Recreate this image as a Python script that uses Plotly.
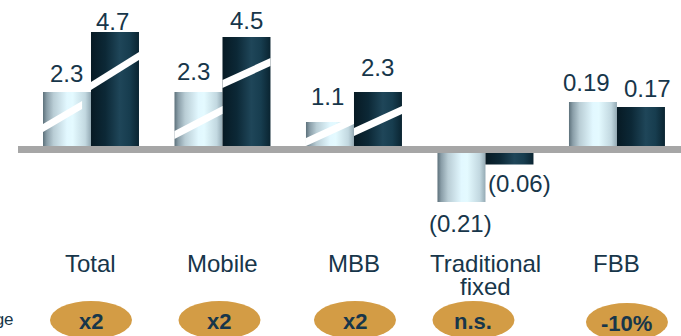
import plotly.graph_objects as go

# ---- data -------------------------------------------------------------
categories = ["Total", "Mobile", "MBB", "Traditional<br>fixed", "FBB"]
values_before = [2.3, 2.3, 1.1, -0.21, 0.19]
values_after = [4.7, 4.5, 2.3, -0.06, 0.17]
change_labels = ["x2", "x2", "x2", "n.s.", "-10%"]
# the small fixed-line figures are plotted on a 10x finer scale
value_axis = ["y", "y", "y", "y2", "y2"]

# ---- styling ----------------------------------------------------------
W, H = 681, 336
FONT = "Liberation Sans, Arial, sans-serif"
TEXT = "#17364a"
BAR_W = 0.365
LIGHT_SCALE = [[0.0, "#5d717b"], [0.08, "#8a9ea8"], [0.22, "#b9cdd5"],
               [0.5, "#e2f8ff"], [0.62, "#e4faff"], [0.88, "#c2d8e0"],
               [1.0, "#94aab4"]]
DARK_SCALE = [[0.0, "#071a24"], [0.3, "#0c2836"], [0.6, "#1f4659"],
              [0.8, "#173d4f"], [1.0, "#0a2431"]]
OVAL = "#d39c45"

# value-label placement (pixels): gap from bar end, horizontal nudge
GAP_BEFORE = [10, 12, 17, 8, 11]
GAP_AFTER = [2, 8, 16, 5, 10]
DX_BEFORE = [-1, -5, -2, -1, -6]
DX_AFTER = [-2, 0, 0, 10, 7]

# white "scale break" strokes on the tall bars: (x0, y0, x1, y1) relative
# to the category centre, in axis units
BREAKS = [
    [(-BAR_W, 0.86, -0.068, 1.78), (0.0, 2.54, BAR_W, 3.74)],
    [(-BAR_W, 0.58, 0.0, 1.58), (0.0, 2.62, BAR_W, 3.50)],
    [(-BAR_W, 0.30, 0.0, 1.18), (0.0, 0.70, BAR_W, 1.58)],
]
BREAK_HALF = 0.16
OVAL_DX = [0, -3, 1, -12, 10]
OVAL_DY = [0, 0, 0, 0, 2]

x_range = [-0.692, 4.487]
y_range = [-7.46, 5.98]
y2_range = [y_range[0] / 10, y_range[1] / 10]


def ypix_to_paper(py):
    return (H - py) / H


def fmt(v):
    return f"({abs(v):g})" if v < 0 else f"{v:g}"


fig = go.Figure()
annotations = []
shapes = []

for i, cat in enumerate(categories):
    ax = value_axis[i]
    bars = ((values_before[i], i - BAR_W, LIGHT_SCALE, GAP_BEFORE[i], DX_BEFORE[i]),
            (values_after[i], i, DARK_SCALE, GAP_AFTER[i], DX_AFTER[i]))
    for v, x0, scale, gap, dx in bars:
        fig.add_trace(go.Scatter(
            x=[x0, x0, x0 + BAR_W, x0 + BAR_W, x0],
            y=[0, v, v, 0, 0],
            yaxis=ax, mode="lines", line=dict(width=0),
            fill="toself",
            fillgradient=dict(type="horizontal", colorscale=scale),
            hoverinfo="skip", showlegend=False,
        ))
        annotations.append(dict(
            x=x0 + BAR_W / 2, y=v, xref="x", yref=ax,
            text=fmt(v), showarrow=False,
            yanchor="bottom" if v >= 0 else "top",
            yshift=(gap - 7) if v >= 0 else -(gap - 2),
            xshift=dx,
            font=dict(family=FONT, size=24, color=TEXT),
        ))

    # category label, lines set tightly
    for k, line in enumerate(cat.split("<br>")):
        annotations.append(dict(
            x=i, y=ypix_to_paper(263 + 23 * k), xref="x", yref="paper",
            text=line, showarrow=False, yanchor="middle",
            font=dict(family=FONT, size=24, color=TEXT),
        ))

    # change badge
    cy = ypix_to_paper(320 + OVAL_DY[i])
    shapes.append(dict(
        type="circle", xref="x", yref="paper",
        xsizemode="pixel", ysizemode="pixel",
        xanchor=i, yanchor=cy,
        x0=OVAL_DX[i] - 41, x1=OVAL_DX[i] + 41, y0=-19, y1=19,
        fillcolor=OVAL, line=dict(width=0), layer="above",
    ))
    annotations.append(dict(
        x=i, y=cy, xref="x", yref="paper", xshift=OVAL_DX[i],
        text=f"<b>{change_labels[i]}</b>", showarrow=False,
        yanchor="middle", yshift=-1,
        font=dict(family=FONT, size=22, color=TEXT),
    ))

# scale-break strokes
for i, segs in enumerate(BREAKS):
    for (a0, b0, a1, b1) in segs:
        xa, xb = i + a0, i + a1
        path = (f"M{xa},{b0 - BREAK_HALF} L{xa},{b0 + BREAK_HALF} "
                f"L{xb},{b1 + BREAK_HALF} L{xb},{b1 - BREAK_HALF} Z")
        shapes.append(dict(type="path", xref="x", yref="y", path=path,
                           fillcolor="white", line=dict(width=0),
                           layer="above"))

# zero baseline
shapes.append(dict(type="line", xref="paper", yref="y",
                   x0=18 / W, x1=1, y0=0, y1=0,
                   line=dict(color="#a6a6a6", width=7), layer="above"))

# row caption for the badges
annotations.append(dict(
    x=16 / W, y=ypix_to_paper(319), xref="paper", yref="paper",
    text="Change", showarrow=False, xanchor="right", yanchor="middle",
    font=dict(family=FONT, size=17, color=TEXT),
))

fig.update_layout(
    width=W, height=H,
    margin=dict(l=0, r=0, t=0, b=0),
    paper_bgcolor="white", plot_bgcolor="white",
    xaxis=dict(range=x_range, visible=False, fixedrange=True),
    yaxis=dict(range=y_range, visible=False, fixedrange=True),
    yaxis2=dict(range=y2_range, visible=False, overlaying="y",
                fixedrange=True),
    annotations=annotations,
    shapes=shapes,
    showlegend=False,
)

fig.write_html("out.html", config={"displayModeBar": False})
